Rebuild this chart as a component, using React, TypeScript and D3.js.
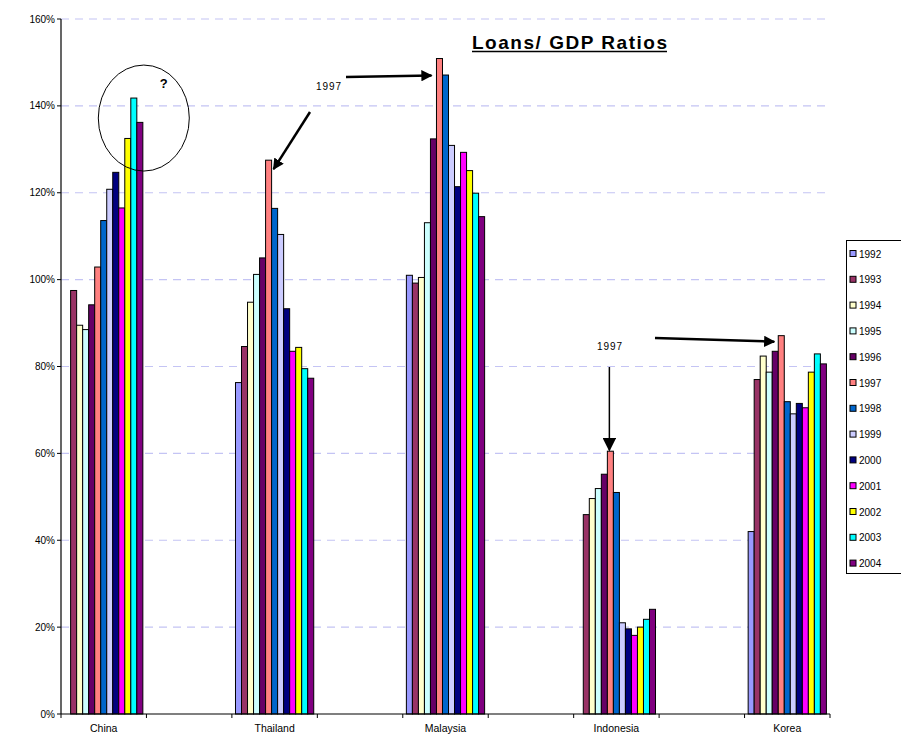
import React from 'react';
import * as d3 from 'd3';

const categories = ['China', 'Thailand', 'Malaysia', 'Indonesia', 'Korea'];
const years = ['1992', '1993', '1994', '1995', '1996', '1997', '1998', '1999', '2000', '2001', '2002', '2003', '2004'];
const colors = ['#9999FF', '#993366', '#FFFFCC', '#CCFFFF', '#660066', '#FF8080', '#0066CC', '#CCCCFF', '#000080', '#FF00FF', '#FFFF00', '#00FFFF', '#800080'];

const china = [null, 97.5, 89.5, 88.5, 94.2, 102.9, 113.6, 120.8, 124.7, 116.5, 132.5, 141.8, 136.2];
const thailand = [76.3, 84.6, 94.8, 101.2, 105.0, 127.5, 116.4, 110.4, 93.3, 83.5, 84.4, 79.5, 77.3];
const malaysia = [101.0, 99.2, 100.5, 113.1, 132.4, 150.9, 147.1, 130.9, 121.4, 129.3, 125.1, 119.9, 114.5];
const indonesia = [null, 45.9, 49.6, 51.9, 55.2, 60.5, 51.0, 21.0, 19.6, 18.1, 20.0, 21.8, 24.1];
const korea = [42.0, 77.0, 82.4, 78.7, 83.5, 87.1, 71.9, 69.1, 71.5, 70.5, 78.7, 82.9, 80.6];

const yTicks = [0, 20, 40, 60, 80, 100, 120, 140, 160];
const title = 'Loans/ GDP Ratios';
const annotationLabel = '1997';

const W = 901;
const H = 742;
const left = 61;
const right = 830;
const top = 19;
const bottom = 714;

export default function App() {
  const seriesByCat = [china, thailand, malaysia, indonesia, korea];
  const slots = d3.scaleBand<number>().domain(d3.range(9)).range([left, right]).padding(0);
  const step = slots.bandwidth();
  const inner = d3.scaleBand<string>().domain(years).range([3.6, step - 3.6]).padding(0);
  const y = d3.scaleLinear().domain([0, 160]).range([bottom, top]);
  const bw = inner.bandwidth();

  const catX = (ci: number) => slots(ci * 2) as number;
  const barX = (ci: number, yi: number) => catX(ci) + (inner(years[yi]) as number);

  // annotation anchors derived from data via scales
  const thTipX = barX(1, 5) + bw + 2;
  const thTipY = y(thailand[5]) + 9;
  const myTipX = barX(2, 5) - 5;
  const myTipY = y(malaysia[5]) + 17;
  const idTipX = barX(3, 5) + bw / 2 - 1;
  const idTipY = y(indonesia[5] as number) - 1;
  const krTipX = barX(4, 5) - 4;
  const krTipY = y(korea[5]) + 6;
  const chinaTopX = barX(0, 11);
  const chinaTopY = y(china[11] as number);

  const font = 'Arial, "Liberation Sans", sans-serif';

  return (
    <svg width={W} height={H} style={{ position: 'absolute', left: 0, top: 0, background: '#fff' }} fontFamily={font}>
      <defs>
        <marker id="ah" viewBox="0 0 10 10" refX="9" refY="5" markerWidth="4.5" markerHeight="4.5" orient="auto" markerUnits="strokeWidth">
          <path d="M0,0 L10,5 L0,10 z" fill="#000" />
        </marker>
        <marker id="ah2" viewBox="0 0 10 10" refX="9" refY="5" markerWidth="9" markerHeight="9" orient="auto" markerUnits="strokeWidth">
          <path d="M0,0 L10,5 L0,10 z" fill="#000" />
        </marker>
      </defs>

      {/* gridlines */}
      {yTicks.filter(t => t > 0).map(t => (
        <line key={'g' + t} x1={left} x2={right} y1={y(t)} y2={y(t)} stroke="#c4c4f4" strokeWidth={1.2} strokeDasharray="8,6" />
      ))}

      {/* bars */}
      {seriesByCat.map((vals, ci) => (
        <g key={categories[ci]}>
          {vals.map((v, yi) => v == null ? null : (
            <rect key={yi} x={barX(ci, yi)} y={y(v)} width={bw} height={y(0) - y(v)} fill={colors[yi]} stroke="#000" strokeWidth={1} />
          ))}
        </g>
      ))}

      {/* y axis */}
      <line x1={left} x2={left} y1={top} y2={bottom} stroke="#000" strokeWidth={1.2} />
      {yTicks.map(t => (
        <g key={'t' + t}>
          <line x1={left - 4} x2={left} y1={y(t)} y2={y(t)} stroke="#000" />
          <text x={left - 6} y={y(t)} dy="0.35em" textAnchor="end" fontSize={10} fill="#000">{t + '%'}</text>
        </g>
      ))}

      {/* x axis */}
      <line x1={left} x2={right} y1={bottom} y2={bottom} stroke="#000" strokeWidth={1.2} />
      {d3.range(10).map(i => (
        <line key={'xt' + i} x1={left + i * step} x2={left + i * step} y1={bottom} y2={bottom + 4} stroke="#000" />
      ))}
      {categories.map((c, ci) => (
        <text key={c} x={catX(ci) + step / 2} y={bottom + 18} textAnchor="middle" fontSize={10.5} fill="#000">{c}</text>
      ))}

      {/* title */}
      <text x={472} y={49} fontSize={19} fontWeight="bold" fill="#000" textLength={195} lengthAdjust="spacing">{title}</text>
      <line x1={472} x2={667} y1={51.5} y2={51.5} stroke="#000" strokeWidth={1.3} />

      {/* legend */}
      <rect x={846.5} y={240.5} width={80} height={333} fill="#fff" stroke="#000" strokeWidth={1} />
      {years.map((yr, i) => (
        <g key={yr} transform={`translate(850, ${254 + i * 25.8})`}>
          <rect x={0} y={-3.5} width={6} height={6} fill={colors[i]} stroke="#000" strokeWidth={1} />
          <text x={9} y={0} dy="0.35em" fontSize={10} fill="#000">{yr}</text>
        </g>
      ))}

      {/* China circle annotation */}
      <ellipse cx={chinaTopX + 13} cy={chinaTopY + 20} rx={45.5} ry={53} fill="none" stroke="#000" strokeWidth={1} />
      <text x={chinaTopX + 33} y={chinaTopY - 10} fontSize={13} fontWeight="bold" textAnchor="middle" fill="#000">?</text>

      {/* Thailand arrow */}
      <text x={329} y={90} fontSize={10} textAnchor="middle" fill="#000" letterSpacing={1}>{annotationLabel}</text>
      <line x1={310} y1={112} x2={thTipX} y2={thTipY} stroke="#000" strokeWidth={2.5} markerEnd="url(#ah)" />

      {/* Malaysia arrow */}
      <line x1={346} y1={77} x2={myTipX} y2={myTipY} stroke="#000" strokeWidth={2.5} markerEnd="url(#ah)" />

      {/* Indonesia arrow */}
      <text x={610} y={350} fontSize={10} textAnchor="middle" fill="#000" letterSpacing={1}>{annotationLabel}</text>
      <line x1={idTipX} y1={367} x2={idTipX} y2={idTipY} stroke="#000" strokeWidth={1.5} markerEnd="url(#ah2)" />

      {/* Korea arrow */}
      <line x1={655} y1={338} x2={krTipX} y2={krTipY} stroke="#000" strokeWidth={2.5} markerEnd="url(#ah)" />
    </svg>
  );
}
